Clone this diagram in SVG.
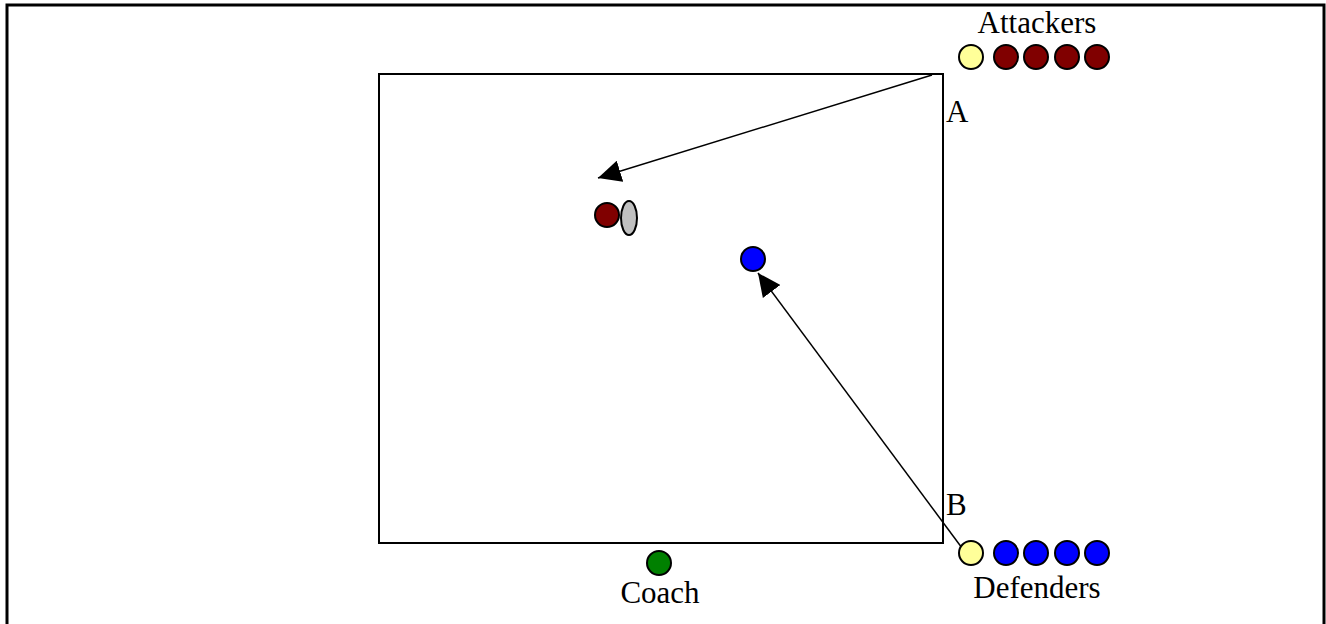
<svg xmlns="http://www.w3.org/2000/svg" width="1326" height="624" viewBox="0 0 1326 624">
<style>
text{font-family:"Liberation Serif","Times New Roman",serif;font-size:31px;fill:#000}
.p{stroke:#000;stroke-width:2}
.y{fill:#ffff99}.r{fill:#800000}.b{fill:#0000ff}.g{fill:#008000}.gr{fill:#c0c0c0}
.c{fill:none;stroke:#000;stroke-width:1.5}
</style>
<defs>
<marker id="ah" markerUnits="userSpaceOnUse" markerWidth="24" markerHeight="22" viewBox="0 0 24 22" refX="23" refY="11" orient="auto">
<path d="M0,0 L23,11 L0,22 Z" fill="#000"/>
</marker>
</defs>
<rect x="7" y="5" width="1317" height="640" fill="#fff" stroke="#000" stroke-width="3"/>
<g id="field"><rect x="379" y="74" width="564" height="469" fill="none" stroke="#000" stroke-width="2"/></g>
<g id="connectors">
<line class="c" x1="932" y1="75" x2="598" y2="178" marker-end="url(#ah)"/>
<line class="c" x1="962" y1="548" x2="758" y2="273" marker-end="url(#ah)"/>
</g>
<g id="attackers">
<text x="1037" y="33" text-anchor="middle">Attackers</text>
<circle class="p y" cx="971" cy="57" r="12"/>
<circle class="p r" cx="1006" cy="57" r="12"/>
<circle class="p r" cx="1036" cy="57" r="12"/>
<circle class="p r" cx="1067" cy="57" r="12"/>
<circle class="p r" cx="1097" cy="57" r="12"/>
</g>
<g id="defenders">
<circle class="p y" cx="971" cy="553" r="12"/>
<circle class="p b" cx="1006" cy="553" r="12"/>
<circle class="p b" cx="1036" cy="553" r="12"/>
<circle class="p b" cx="1067" cy="553" r="12"/>
<circle class="p b" cx="1097" cy="553" r="12"/>
<text x="1037" y="598" text-anchor="middle">Defenders</text>
</g>
<g id="labelA"><text x="946" y="122">A</text></g>
<g id="labelB"><text x="946" y="515">B</text></g>
<g id="attacker"><circle class="p r" cx="607" cy="215" r="12"/></g>
<g id="ball"><ellipse class="p gr" cx="629" cy="218" rx="8" ry="17"/></g>
<g id="defender"><circle class="p b" cx="753" cy="259" r="12"/></g>
<g id="coach">
<circle class="p g" cx="659" cy="563" r="12"/>
<text x="660" y="603" text-anchor="middle">Coach</text>
</g>
</svg>
